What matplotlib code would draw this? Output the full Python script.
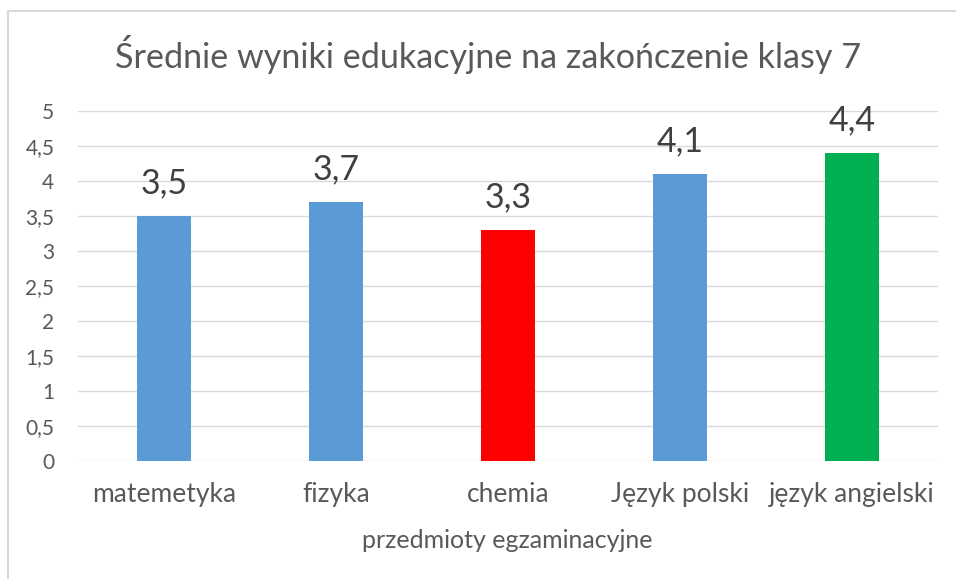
import matplotlib.pyplot as plt
from matplotlib.lines import Line2D
from matplotlib.ticker import FuncFormatter

categories = ["matemetyka", "fizyka", "chemia", "Język polski", "język angielski"]
values = [3.5, 3.7, 3.3, 4.1, 4.4]
colors = ["#5B9BD5", "#5B9BD5", "#FF0000", "#5B9BD5", "#00B050"]
yticks = [0, 0.5, 1, 1.5, 2, 2.5, 3, 3.5, 4, 4.5, 5]

plt.rcParams['font.family'] = ['Lato', 'DejaVu Sans']

fig = plt.figure(figsize=(9.56, 5.79), dpi=100)
ax = fig.add_axes([0.0816, 0.2038, 0.8996, 0.6045])

x = range(len(categories))
bars = ax.bar(x, values, width=0.315, color=colors, zorder=3)

for xi, v in zip(x, values):
    ax.annotate(f"{v:.1f}".replace(".", ","), (xi, v), xytext=(0, 16.5),
                textcoords="offset points", ha="center", va="baseline",
                fontsize=24.5, color="#404040")

ax.set_xlim(-0.5, len(categories) - 0.5)
ax.set_ylim(0, 5)
ax.set_yticks(yticks)
ax.yaxis.set_major_formatter(FuncFormatter(lambda v, p: f"{v:g}".replace(".", ",")))
ax.grid(axis="y", color="#D9D9D9", linewidth=1, zorder=0)
ax.set_xticks(list(x))
ax.set_xticklabels(categories, fontsize=19, color="#595959")
ax.tick_params(axis="y", labelsize=15, labelcolor="#595959", length=0, pad=17)
ax.tick_params(axis="x", length=0, pad=15)
for s in ax.spines.values():
    s.set_visible(False)

fig.text(0.531, 1 - 541 / 579, "przedmioty egzaminacyjne", fontsize=18,
         color="#595959", ha="center", va="center")
fig.text(0.511, 1 - 55 / 579, "Średnie wyniki edukacyjne na zakończenie klasy 7",
         fontsize=24.6, color="#595959", ha="center", va="center")

# chart frame: only left and top edges are visible in the crop
fl, ft = 8 / 956, 1 - 11 / 579
fig.add_artist(Line2D([fl, fl, 1.0], [0.0, ft, ft], transform=fig.transFigure,
                      color="#D9D9D9", linewidth=1.5))

fig.savefig("out.png", dpi=100)
